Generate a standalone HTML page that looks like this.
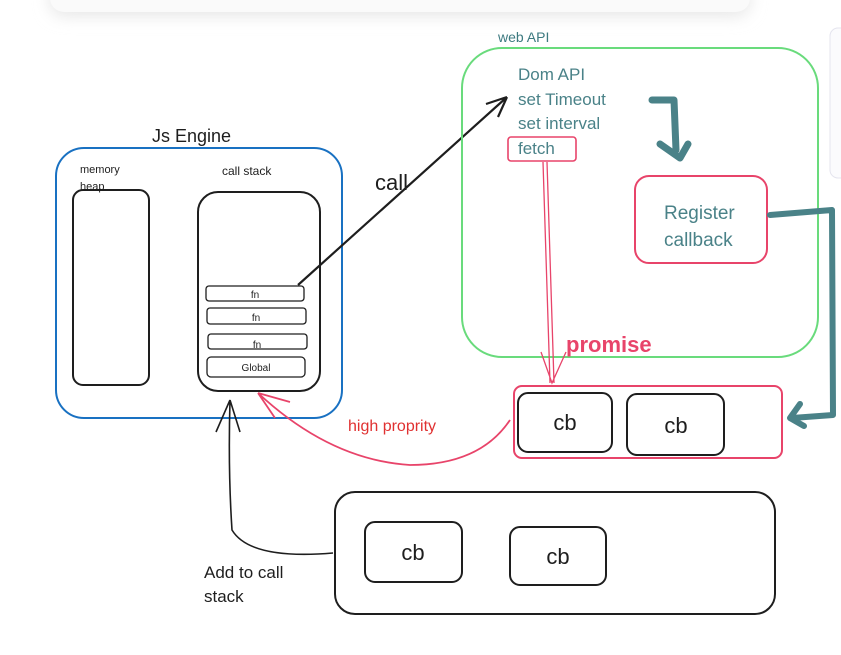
<!DOCTYPE html>
<html><head><style>
body{margin:0;background:#fff;}
svg{display:block}
text{font-family:"Liberation Sans",sans-serif}
</style></head><body>
<svg width="841" height="655" viewBox="0 0 841 655" xmlns="http://www.w3.org/2000/svg">
<defs>
<filter id="b" x="-10%" y="-100%" width="120%" height="300%"><feGaussianBlur stdDeviation="8"/></filter>
</defs>
<rect x="50" y="-20" width="700" height="36" rx="14" fill="#e6e6e6" filter="url(#b)"/>
<rect x="50" y="-20" width="700" height="32" rx="14" fill="#fafafa"/>
<rect x="830" y="28" width="20" height="150" rx="8" fill="#fbfbfd" stroke="#e4e4ee"/>

<!-- JS engine -->
<text x="152" y="142" font-size="18" fill="#1e1e1e">Js Engine</text>
<rect x="56" y="148" width="286" height="270" rx="28" fill="none" stroke="#1971c2" stroke-width="2"/>
<text x="80" y="173" font-size="11" fill="#1e1e1e">memory</text>
<text x="80" y="190" font-size="11" fill="#1e1e1e">heap</text>
<rect x="73" y="190" width="76" height="195" rx="10" fill="none" stroke="#1e1e1e" stroke-width="2"/>
<text x="222" y="175" font-size="12" fill="#1e1e1e">call stack</text>
<rect x="198" y="192" width="122" height="199" rx="20" fill="none" stroke="#1e1e1e" stroke-width="2"/>
<g fill="none" stroke="#1e1e1e" stroke-width="1.3">
<rect x="206" y="286" width="98" height="15" rx="3"/>
<rect x="207" y="308" width="99" height="16" rx="3"/>
<rect x="208" y="334" width="99" height="15" rx="3"/>
<rect x="207" y="357" width="98" height="20" rx="4"/>
</g>
<g font-size="10" fill="#1e1e1e" text-anchor="middle">
<text x="255" y="298">fn</text><text x="256" y="321">fn</text><text x="257" y="348">fn</text><text x="256" y="371">Global</text>
</g>

<!-- call arrow -->
<path d="M298 285 L507 97 M507 97 L486 104 M507 97 L498 117" stroke="#1e1e1e" stroke-width="2.2" fill="none"/>
<text x="375" y="190" font-size="22" fill="#1e1e1e">call</text>

<!-- web API -->
<text x="498" y="42" font-size="14" fill="#3d7a80">web API</text>
<rect x="462" y="48" width="356" height="309" rx="40" fill="none" stroke="#69db7c" stroke-width="2"/>
<g font-size="17" fill="#4a8288">
<text x="518" y="80">Dom API</text>
<text x="518" y="105">set Timeout</text>
<text x="518" y="129">set interval</text>
<text x="518" y="154">fetch</text>
</g>
<rect x="508" y="137" width="68" height="24" rx="3" fill="none" stroke="#e8446a" stroke-width="1.6"/>
<path d="M652 100 L674 100 L676 150 M660 144 L680 158 L688 144" stroke="#4a8288" stroke-width="7" fill="none" stroke-linecap="round" stroke-linejoin="round"/>
<rect x="635" y="176" width="132" height="87" rx="14" fill="none" stroke="#e8446a" stroke-width="2"/>
<text x="664" y="219" font-size="19" fill="#4a8288">Register</text>
<text x="664" y="246" font-size="19" fill="#4a8288">callback</text>
<path d="M770 215 L832 210 L833 415 L792 418 M800 404 L790 418 L804 426" stroke="#4a8288" stroke-width="6" fill="none" stroke-linecap="round" stroke-linejoin="round"/>

<!-- fetch line -->
<path d="M543 162 L550 383 M547 162 L554 383 M541 352 L552 383 L566 352" stroke="#e8446a" stroke-width="1.3" fill="none"/>
<text x="566" y="352" font-size="22" font-weight="bold" fill="#e8446a">promise</text>

<!-- microtask queue -->
<rect x="514" y="386" width="268" height="72" rx="8" fill="none" stroke="#e8446a" stroke-width="2"/>
<rect x="518" y="393" width="94" height="59" rx="10" fill="none" stroke="#1e1e1e" stroke-width="2"/>
<rect x="627" y="394" width="97" height="61" rx="10" fill="none" stroke="#1e1e1e" stroke-width="2"/>
<text x="565" y="430" font-size="22" fill="#1e1e1e" text-anchor="middle">cb</text>
<text x="676" y="433" font-size="22" fill="#1e1e1e" text-anchor="middle">cb</text>

<text x="348" y="431" font-size="16" fill="#e03131">high proprity</text>
<path d="M510 420 Q480 465 410 465 Q330 460 258 393 M258 393 L290 402 M258 393 L275 418" stroke="#e8446a" stroke-width="1.8" fill="none"/>

<!-- task queue -->
<rect x="335" y="492" width="440" height="122" rx="20" fill="none" stroke="#1e1e1e" stroke-width="2"/>
<rect x="365" y="522" width="97" height="60" rx="10" fill="none" stroke="#1e1e1e" stroke-width="2"/>
<rect x="510" y="527" width="96" height="58" rx="10" fill="none" stroke="#1e1e1e" stroke-width="2"/>
<text x="413" y="560" font-size="22" fill="#1e1e1e" text-anchor="middle">cb</text>
<text x="558" y="564" font-size="22" fill="#1e1e1e" text-anchor="middle">cb</text>
<path d="M333 553 Q250 560 232 530 Q228 470 230 400 M230 400 L216 432 M230 400 L240 432" stroke="#1e1e1e" stroke-width="1.6" fill="none"/>
<text x="204" y="578" font-size="17" fill="#1e1e1e">Add to call</text>
<text x="204" y="602" font-size="17" fill="#1e1e1e">stack</text>
</svg>
</body></html>
